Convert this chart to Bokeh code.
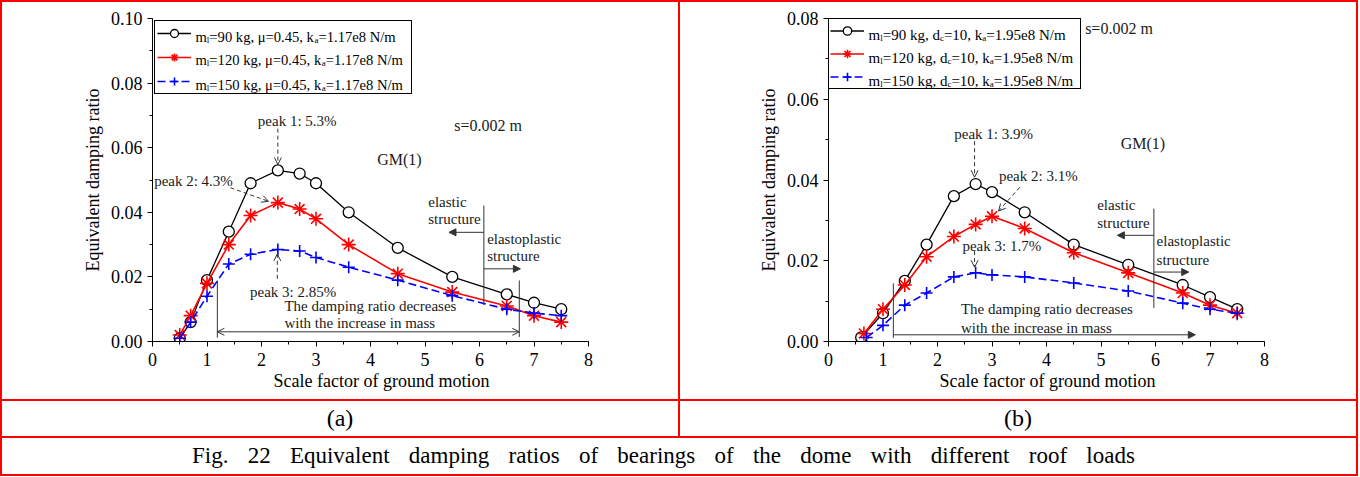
from bokeh.plotting import figure
from bokeh.layouts import row, column
from bokeh.models import (Range1d, SingleIntervalTicker, NumeralTickFormatter, Legend, LegendItem,
                          Label, Arrow, OpenHead, NormalHead, Title, Div)
from bokeh.core.properties import value
from bokeh.embed import file_html
from bokeh.resources import INLINE

FONT = "Liberation Serif"

# ---------------- data (a) ----------------
xa = [0.5, 0.7, 1.0, 1.4, 1.8, 2.3, 2.7, 3.0, 3.6, 4.5, 5.5, 6.5, 7.0, 7.5]
a90 = [0.001, 0.006, 0.019, 0.034, 0.049, 0.053, 0.052, 0.049, 0.040, 0.029, 0.020, 0.0146, 0.012, 0.010]
a120 = [0.002, 0.008, 0.018, 0.030, 0.039, 0.043, 0.041, 0.038, 0.030, 0.021, 0.0153, 0.011, 0.008, 0.006]
a150 = [0.001, 0.006, 0.014, 0.024, 0.027, 0.0285, 0.028, 0.026, 0.023, 0.019, 0.0142, 0.010, 0.0088, 0.008]

# ---------------- data (b) ----------------
xb90 = [0.6, 1.0, 1.4, 1.8, 2.3, 2.7, 3.0, 3.6, 4.5, 5.5, 6.5, 7.0, 7.5]
xb120 = [0.65, 1.0, 1.4, 1.8, 2.3, 2.7, 3.0, 3.6, 4.5, 5.5, 6.5, 7.0, 7.5]
xb150 = [0.7, 1.0, 1.4, 1.8, 2.3, 2.7, 3.0, 3.6, 4.5, 5.5, 6.5, 7.0, 7.5]
b90 = [0.001, 0.007, 0.015, 0.024, 0.036, 0.039, 0.037, 0.032, 0.024, 0.019, 0.014, 0.011, 0.008]
b120 = [0.002, 0.008, 0.014, 0.021, 0.026, 0.029, 0.031, 0.028, 0.022, 0.017, 0.012, 0.009, 0.007]
b150 = [0.001, 0.004, 0.009, 0.012, 0.016, 0.017, 0.0165, 0.016, 0.0145, 0.0125, 0.0095, 0.008, 0.007]

legend_a = [
    [("m", 0), ("l", 1), ("=90 kg, \u03bc=0.45, k", 0), ("a", 1), ("=1.17e8 N/m", 0)],
    [("m", 0), ("l", 1), ("=120 kg, \u03bc=0.45, k", 0), ("a", 1), ("=1.17e8 N/m", 0)],
    [("m", 0), ("l", 1), ("=150 kg, \u03bc=0.45, k", 0), ("a", 1), ("=1.17e8 N/m", 0)],
]
legend_b = [
    [("m", 0), ("l", 1), ("=90 kg, d", 0), ("c", 1), ("=10, k", 0), ("a", 1), ("=1.95e8 N/m", 0)],
    [("m", 0), ("l", 1), ("=120 kg, d", 0), ("c", 1), ("=10, k", 0), ("a", 1), ("=1.95e8 N/m", 0)],
    [("m", 0), ("l", 1), ("=150 kg, d", 0), ("c", 1), ("=10, k", 0), ("a", 1), ("=1.95e8 N/m", 0)],
]

XTITLE = "Scale factor of ground motion"
YTITLE = "Equivalent damping ratio"
CAPTION = "Fig. 22 Equivalent damping ratios of bearings of the dome with different roof loads"

# Times / Liberation Serif advance widths (em)
W = {' ': .25, '%': .833, '(': .333, ')': .333, ',': .25, '.': .25, '/': .278, ':': .278, '=': .564,
     'N': .722, 'a': .444, 'c': .444, 'd': .5, 'e': .444, 'g': .5, 'k': .5, 'l': .278, 'm': .778,
     '\u03bc': .576}
for d in "0123456789":
    W[d] = .5


def tw(s, size):
    return sum(W.get(c, .5) for c in s) * size


FW, FH = 436, 323
TXT = "#1a1a1a"
ARR = "#333333"
PW, PH = 676, 397


def make_fig(ymax, left):
    p = figure(frame_width=FW, frame_height=FH, x_range=Range1d(0, 8), y_range=Range1d(0, ymax),
               output_backend="svg", toolbar_location=None,
               min_border_left=left, min_border_right=PW - FW - left, min_border_top=16,
               min_border_bottom=PH - FH - 16,
               background_fill_color="white", border_fill_color="white", outline_line_color=None,
               styles={"background-color": "white"})
    p.grid.visible = False
    p.xaxis.ticker = SingleIntervalTicker(interval=1, num_minor_ticks=2)
    p.yaxis.ticker = SingleIntervalTicker(interval=0.02, num_minor_ticks=2)
    p.yaxis.formatter = NumeralTickFormatter(format="0.00")
    for ax in p.axis:
        ax.major_tick_in = 0
        ax.major_tick_out = 5
        ax.minor_tick_in = 0
        ax.minor_tick_out = 3
        ax.axis_line_color = "black"
        ax.major_tick_line_color = "black"
        ax.minor_tick_line_color = "black"
        ax.major_label_text_font = FONT
        ax.major_label_text_font_size = "18px"
        ax.major_label_text_color = "black"
    p.xaxis.major_label_standoff = 6
    p.yaxis.major_label_standoff = 5
    p.yaxis.axis_label = YTITLE
    p.yaxis.axis_label_text_font = FONT
    p.yaxis.axis_label_text_font_size = "18px"
    p.yaxis.axis_label_text_font_style = "normal"
    p.yaxis.axis_label_text_color = "black"
    return p


def series(p, xs, ys):
    rs = []
    styles = [("black", None, "circle", 11, 1.3), ("red", None, "asterisk", 14, 1.6),
              ("blue", "8 4", "cross", 12, 1.6)]
    for (x, y), (c, dash, mk, sz, lw) in zip(zip(xs, ys), styles):
        kw = dict(line_dash=dash) if dash else {}
        l = p.line(x, y, line_color=c, line_width=lw, **kw)
        if mk == "circle":
            s = p.scatter(x, y, marker=mk, size=sz, line_color=c, fill_color="white", line_width=lw)
        else:
            s = p.scatter(x, y, marker=mk, size=sz, line_color=c, line_width=lw)
        rs.append([l, s])
    return rs


def add_legend(p, rs, margin, padding, spacing, gh, lw):
    items = [LegendItem(label=" ", renderers=r) for r in rs]
    lg = Legend(items=items, location="top_left", margin=margin, padding=padding, spacing=spacing,
                glyph_width=34, glyph_height=gh, label_height=gh, label_width=lw, label_standoff=5,
                border_line_color="black", border_line_width=1, border_line_alpha=1.0,
                background_fill_alpha=0.0, label_text_font_size="6px")
    p.add_layout(lg)


def rich_rows(p, ymax, x0_px, centers_px, rows, size=15, sub=9):
    ppy = FH / ymax
    ppx = FW / 8.0
    mx, my, mt, sx, sy, st = [], [], [], [], [], []
    for pieces, c in zip(rows, centers_px):
        x = x0_px
        yb = c + 4.5
        for s, is_sub in pieces:
            if is_sub:
                sx.append(x / ppx); sy.append(ymax - (yb + 3) / ppy); st.append(s)
                x += tw(s, sub)
            else:
                mx.append(x / ppx); my.append(ymax - yb / ppy); mt.append(s)
                x += tw(s, size)
    p.text(mx, my, text=mt, text_font=value(FONT), text_font_size=f"{size}px", text_align="left",
           text_baseline="alphabetic", text_color="black", level="overlay")
    p.text(sx, sy, text=st, text_font=value(FONT), text_font_size=f"{sub}px", text_align="left",
           text_baseline="alphabetic", text_color="black", level="overlay")


def lab(p, x, y, t, align="center", size=15):
    p.add_layout(Label(x=x, y=y, text=t, text_align=align, text_baseline="middle",
                       text_font=FONT, text_font_size=f"{size}px", text_color=TXT))


def arr(p, x0, y0, x1, y1, head=None, start=None, dash="solid"):
    p.add_layout(Arrow(x_start=x0, y_start=y0, x_end=x1, y_end=y1, line_color=ARR, line_width=1,
                       line_dash=dash, end=head, start=start))


def ohead():
    return OpenHead(size=7, line_color=ARR, line_width=1)


def nhead():
    return NormalHead(size=7, line_color=ARR, fill_color=ARR, line_width=1)


def xtitle(p, offset):
    p.add_layout(Title(text=XTITLE, align="left", offset=offset, text_font=FONT,
                       text_font_size="18px", text_font_style="normal", text_color="black",
                       standoff=0), "below")


# ================= (a) =================
pa = make_fig(0.1, 150)
ra = series(pa, [xa, xa, xa], [a90, a120, a150])
add_legend(pa, ra, 2, 2, 4, 20, 213)
rich_rows(pa, 0.1, 43, [14, 37, 62], legend_a, size=14.6)
xtitle(pa, 121)

lab(pa, 2.655, 0.0684, "peak 1: 5.3%")
arr(pa, 2.3, 0.0659, 2.3, 0.0548, head=ohead(), dash="4 3")
lab(pa, 0.03, 0.0498, "peak 2: 4.3%", align="left")
arr(pa, 1.43, 0.0476, 2.13, 0.0434, head=ohead(), dash="4 3")
lab(pa, 2.58, 0.0153, "peak 3: 2.85%")
arr(pa, 2.29, 0.0194, 2.29, 0.0271, head=ohead(), dash="4 3")
lab(pa, 6.16, 0.0669, "s=0.002 m", size=16)
lab(pa, 4.53, 0.0562, "GM(1)", size=16)
lab(pa, 5.06, 0.0431, "elastic", align="left")
lab(pa, 5.06, 0.0378, "structure", align="left")
arr(pa, 6.08, 0.0421, 6.08, 0.0113)
arr(pa, 6.08, 0.0338, 5.44, 0.0338, head=nhead())
lab(pa, 6.14, 0.0318, "elastoplastic", align="left")
lab(pa, 6.14, 0.0266, "structure", align="left")
arr(pa, 6.08, 0.0225, 6.75, 0.0225, head=nhead())
lab(pa, 2.42, 0.0111, "The damping ratio decreases", align="left")
lab(pa, 2.42, 0.0057, "with the increase in mass", align="left")
arr(pa, 1.19, 0.0030, 6.73, 0.0030, head=ohead(), start=ohead())
arr(pa, 1.19, 0.0189, 1.19, 0.0012)
arr(pa, 6.73, 0.0189, 6.73, 0.0014)

# ================= (b) =================
pb = make_fig(0.08, 148)
rb = series(pb, [xb90, xb120, xb150], [b90, b120, b150])
add_legend(pb, rb, 0, 1, 2, 21, 210)
rich_rows(pb, 0.08, 40, [11.5, 34.5, 57.5], legend_b)
xtitle(pb, 111)

lab(pb, 3.03, 0.0513, "peak 1: 3.9%")
arr(pb, 2.68, 0.0496, 2.68, 0.0407, head=ohead(), dash="4 3")
lab(pb, 3.85, 0.0409, "peak 2: 3.1%")
arr(pb, 3.51, 0.0382, 3.12, 0.0323, head=ohead(), dash="4 3")
lab(pb, 3.18, 0.0237, "peak 3: 1.7%")
arr(pb, 2.68, 0.0224, 2.68, 0.0184, head=ohead(), dash="4 3")
lab(pb, 5.77, 0.0491, "GM(1)", size=16)
lab(pb, 5.33, 0.0775, "s=0.002 m", size=16)
lab(pb, 4.93, 0.0339, "elastic", align="left")
lab(pb, 4.93, 0.0293, "structure", align="left")
arr(pb, 5.97, 0.0329, 5.97, 0.0083)
arr(pb, 5.97, 0.0263, 5.30, 0.0263, head=nhead())
lab(pb, 6.02, 0.0250, "elastoplastic", align="left")
lab(pb, 6.02, 0.0202, "structure", align="left")
arr(pb, 5.97, 0.0172, 6.61, 0.0172, head=nhead())
lab(pb, 2.43, 0.0081, "The damping ratio decreases", align="left")
lab(pb, 2.43, 0.0034, "with the increase in mass", align="left")
arr(pb, 1.19, 0.00166, 6.73, 0.00166, head=nhead())
arr(pb, 1.19, 0.0144, 1.19, 0.0009)


def cell(text, w, h, size, extra="", align="center"):
    html = (f'<div style="width:{w}px;height:{h}px;font-family:\'{FONT}\';font-size:{size}px;'
            f'text-align:{align};line-height:{h}px;color:black;white-space:nowrap;box-sizing:border-box;{extra}">{text}</div>')
    return Div(text=html, width=w, height=h, margin=0, styles={"background-color": "white"})


lab_a = cell("(a)", PW, 35, 24)
lab_b = cell("(b)", PW, 35, 24)
cap = cell(CAPTION, 2 * PW + 2, 36, 23, "word-spacing:13.5px;padding-left:190px;", align="left")

layout = column(row(pa, pb, spacing=2), row(lab_a, lab_b, spacing=2), cap, spacing=2,
                styles={"background-color": "red", "padding": "2px"})

open("out.html", "w").write(file_html(layout, INLINE))
